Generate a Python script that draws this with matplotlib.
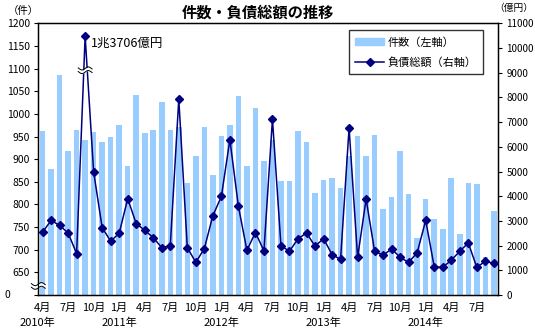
import numpy as np
import matplotlib
matplotlib.use('Agg')
import matplotlib.pyplot as plt
import matplotlib.transforms as mtransforms
from matplotlib.patches import Patch
from matplotlib.lines import Line2D

plt.rcParams['font.family'] = ['Noto Sans CJK JP', 'DejaVu Sans']

# monthly data, April 2010 - September 2014
counts = [962, 879, 1086, 918, 965, 943, 961, 937, 949,
          976, 886, 1042, 957, 965, 1027, 965, 970, 848, 908,
          972, 866, 952, 976, 1040, 886, 1014, 897, 943, 852,
          852, 963, 938, 826, 854, 859, 837, 908, 952, 908,
          954, 791, 817, 919, 823, 727, 811, 767, 745, 859,
          734, 848, 846, 685, 786]
debt = [2540, 3020, 2820, 2510, 1680, 13706, 4980, 2730, 2180,
        2500, 3900, 2890, 2620, 2320, 1920, 1990, 7930, 1920, 1320,
        1880, 3210, 3990, 6290, 3590, 1810, 2530, 1790, 7120, 1990,
        1770, 2280, 2510, 1980, 2280, 1640, 1440, 6770, 1520, 3880,
        1770, 1610, 1870, 1520, 1320, 1720, 3020, 1140, 1120, 1410,
        1770, 2110, 1120, 1370, 1280]
month_labels = ['4月', '7月', '10月', '1月'] * 4 + ['4月', '7月']
year_labels = ['2010年', '2011年', '2012年', '2013年', '2014年']
year_pos = [-0.65, 9, 21, 33, 45]

debt_cap = 10480   # peak is drawn cut off at this height

bar_color = '#99CCFF'
line_color = '#000080'


def draw_break(ax, x, y, base_trans, zorder=10):
    # small white "wavy" cut mark, shape in points around (x, y)
    trans = mtransforms.Affine2D().scale(ax.figure.dpi / 72.0) + \
        mtransforms.ScaledTranslation(x, y, base_trans)
    xs = np.linspace(-5, 5, 40)
    ys = 1.1 * np.sin(2 * np.pi * xs / 9.0)
    ax.fill_between(xs, ys - 1.3, ys + 1.3, color='white', transform=trans,
                    zorder=zorder, clip_on=False, linewidth=0)
    ax.plot(xs, ys + 1.3, color='black', lw=0.7, transform=trans,
            zorder=zorder + 1, clip_on=False)
    ax.plot(xs, ys - 1.3, color='black', lw=0.7, transform=trans,
            zorder=zorder + 1, clip_on=False)


fig = plt.figure(figsize=(5.35, 3.32), dpi=100)
ax = fig.add_axes([0.0716, 0.1114, 0.8594, 0.8184])
ax2 = ax.twinx()

x = np.arange(len(counts))
ax.bar(x, counts, width=0.65, color=bar_color, zorder=1)
ax.set_xlim(-0.5, len(counts) - 0.5)
ax.set_ylim(600, 1200)
ax.set_yticks(np.arange(600, 1201, 50))
ax.set_yticklabels([''] + [str(v) for v in range(650, 1201, 50)], fontsize=7.5)
ax.tick_params(axis='y', direction='out', length=3, pad=3)
ax.set_xticks(x[::3])
ax.set_xticklabels(month_labels, fontsize=8)
ax.tick_params(axis='x', length=0, pad=6)

for lab, pos in zip(year_labels, year_pos):
    ax.text(pos, -0.103, lab, fontsize=8, ha='center', va='center',
            transform=ax.get_xaxis_transform())

ax.text(-0.067, 0.0, '0', fontsize=7.5, ha='center', va='center',
        transform=ax.transAxes)

debt_plot = np.minimum(debt, debt_cap)
ax2.plot(x, debt_plot, color=line_color, lw=1.1, marker='D', markersize=4.5,
         zorder=3)
ax2.set_ylim(0, 11000)
ax2.set_yticks(np.arange(0, 11001, 1000))
ax2.tick_params(axis='y', direction='out', length=3, pad=3, labelsize=7)

peak = int(np.argmax(debt))
oku = debt[peak] % 10000
cho = debt[peak] // 10000
ax2.annotate('{}兆{}億円'.format(cho, oku), (peak, debt_plot[peak]),
             xytext=(4, -5), textcoords='offset points', fontsize=9,
             ha='left', va='center')

draw_break(ax2, peak, 9100, ax2.transData)
draw_break(ax, 0, 620, ax.get_yaxis_transform())

for sp in ax.spines.values():
    sp.set_linewidth(1.0)

ax.text(-0.033, 1.045, '（件）', fontsize=7.5, ha='center', va='center',
        transform=ax.transAxes)
fig.text(0.997, 0.975, '（億円）', fontsize=7, ha='right', va='center')
fig.text(0.482, 0.963, '件数・負債総額の推移', fontsize=11, fontweight='bold',
         ha='center', va='center')

handles = [Patch(color=bar_color, label='件数（左軸）'),
           Line2D([], [], color=line_color, lw=1.1, marker='D', markersize=4.5,
                  label='負債総額（右軸）')]
leg = ax2.legend(handles=handles, loc='upper right',
                 bbox_to_anchor=(0.98, 0.994), fontsize=8, frameon=True,
                 fancybox=False, edgecolor='black', handlelength=2.6,
                 handleheight=0.6, borderpad=0.6, labelspacing=0.8,
                 handletextpad=0.3)
leg.get_frame().set_linewidth(1.0)
leg.set_zorder(20)

fig.savefig('out.png', dpi=100)
